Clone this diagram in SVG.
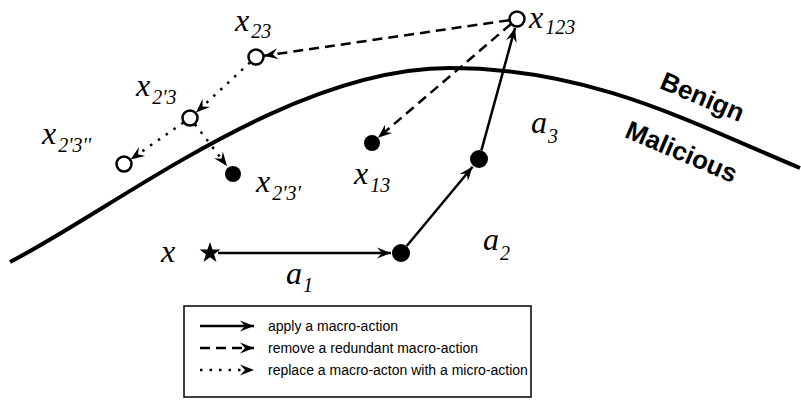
<svg xmlns="http://www.w3.org/2000/svg" width="801" height="404" viewBox="0 0 801 404">
<defs>
<marker id="ah" viewBox="-15 -6 16 12" refX="0" refY="0" markerWidth="16" markerHeight="12" orient="auto" markerUnits="userSpaceOnUse">
<path d="M0,0 L-14,-5.5 L-9,0 L-14,5.5 Z" fill="#000"/>
</marker>
</defs>
<style>
.m{font-family:"Liberation Serif","Times New Roman",serif;font-style:italic;fill:#000}
.v{font-size:32px}
.s{font-size:20px}
.edge{fill:none;stroke:#000;stroke-width:2.5;marker-end:url(#ah)}
.dash{stroke-dasharray:10 6}
.dot{stroke-dasharray:2.5 7}
.open{fill:#fff;stroke:#000;stroke-width:2.5}
.fill{fill:#000}
.lt{font-family:"Liberation Sans",Arial,sans-serif;font-size:14px;fill:#000}
.bd{font-family:"Liberation Sans",Arial,sans-serif;font-size:26px;font-weight:bold;fill:#000}
</style>
<rect width="801" height="404" fill="#fff"/>
<g id="boundary">
<path d="M10,262 C120,205 290,68 450,68 C590,68 690,122 800,168" fill="none" stroke="#000" stroke-width="4"/>
<text class="bd" transform="translate(699,105) rotate(23)" text-anchor="middle">Benign</text>
<text class="bd" transform="translate(678,160) rotate(23)" text-anchor="middle">Malicious</text>
</g>
<g id="connectors">
<line class="edge" x1="218" y1="253" x2="391" y2="253"/>
<line class="edge" x1="406.7" y1="246" x2="472.6" y2="166.7"/>
<line class="edge" x1="481.4" y1="150.3" x2="515" y2="28"/>
<line class="edge dash" x1="509" y1="20.2" x2="264" y2="55.8"/>
<line class="edge dash" x1="511" y1="24" x2="378" y2="137.8"/>
<line class="edge dot" x1="250" y1="62.4" x2="196" y2="112.6"/>
<line class="edge dot" x1="183.4" y1="122.6" x2="130.6" y2="159.4"/>
<line class="edge dot" x1="194.9" y1="124.3" x2="227" y2="166"/>
</g>
<g id="x">
<polygon class="fill" points="210,242 212.53,249.52 220.46,249.6 214.09,254.33 216.47,261.9 210,257.3 203.53,261.9 205.91,254.33 199.54,249.6 207.47,249.52"/>
<text class="m v" x="161" y="262">x</text>
</g>
<g id="n1">
<circle class="fill" cx="401" cy="253" r="9"/>
</g>
<g id="n2">
<circle class="fill" cx="479" cy="159" r="9"/>
</g>
<g id="x123">
<circle class="open" cx="517" cy="19" r="7.5"/>
<text class="m" x="529" y="28"><tspan class="v">x</tspan><tspan class="s" dx="2" dy="6">123</tspan></text>
</g>
<g id="x23">
<circle class="open" cx="256" cy="57" r="7.5"/>
<text class="m" x="235" y="31"><tspan class="v">x</tspan><tspan class="s" dx="2" dy="7">23</tspan></text>
</g>
<g id="x13">
<circle class="fill" cx="372" cy="143" r="8"/>
<text class="m" x="354" y="184"><tspan class="v">x</tspan><tspan class="s" dx="2" dy="8">13</tspan></text>
</g>
<g id="x2p3">
<circle class="open" cx="190" cy="118" r="7.5"/>
<text class="m" x="136" y="96"><tspan class="v">x</tspan><tspan class="s" dx="2" dy="8">2'3</tspan></text>
</g>
<g id="x2p3pp">
<circle class="open" cx="124" cy="164" r="7.5"/>
<text class="m" x="42" y="144"><tspan class="v">x</tspan><tspan class="s" dx="2" dy="8">2'3''</tspan></text>
</g>
<g id="x2p3p">
<circle class="fill" cx="233" cy="174" r="8"/>
<text class="m" x="256" y="192"><tspan class="v">x</tspan><tspan class="s" dx="2" dy="8">2'3'</tspan></text>
</g>
<g id="labels">
<text class="m" x="286" y="284"><tspan class="v">a</tspan><tspan class="s" dx="1" dy="8">1</tspan></text>
<text class="m" x="483" y="250"><tspan class="v">a</tspan><tspan class="s" dx="1" dy="10">2</tspan></text>
<text class="m" x="531" y="133"><tspan class="v">a</tspan><tspan class="s" dx="1" dy="10">3</tspan></text>
</g>
<g id="legend">
<rect x="184" y="306" width="347" height="91" fill="#fff" stroke="#000" stroke-width="1.5"/>
<line class="edge" x1="200" y1="326" x2="254" y2="326"/>
<line class="edge dash" x1="200" y1="348" x2="254" y2="348"/>
<line class="edge dot" x1="200" y1="370" x2="254" y2="370"/>
<text class="lt" x="268" y="331">apply a macro-action</text>
<text class="lt" x="268" y="353">remove a redundant macro-action</text>
<text class="lt" x="268" y="375">replace a macro-acton with a micro-action</text>
</g>
</svg>
